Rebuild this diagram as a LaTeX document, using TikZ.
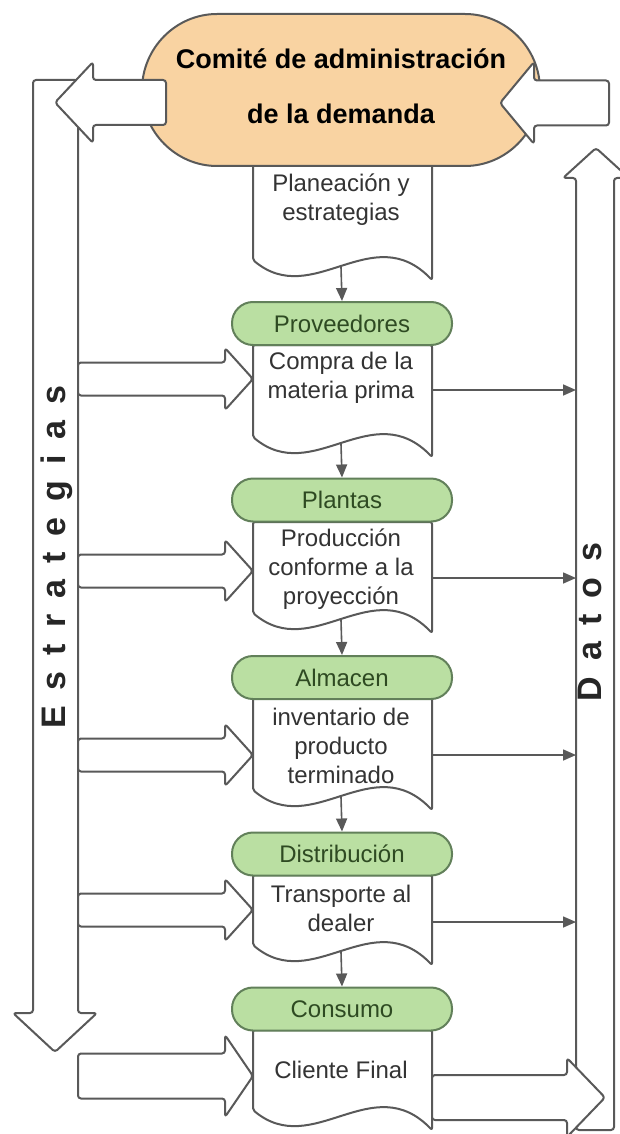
\documentclass[tikz,border=0pt]{standalone}
\usepackage{fontspec}
\setmainfont{Liberation Sans}
\usetikzlibrary{arrows.meta}
\definecolor{lc}{HTML}{595959}
\definecolor{tc}{HTML}{333333}
\definecolor{vc}{HTML}{262626}
\definecolor{orfill}{HTML}{F9D3A2}
\definecolor{grfill}{HTML}{BADFA2}
\definecolor{grline}{HTML}{62805A}
\definecolor{grtext}{HTML}{2E4A22}
\newcommand\docshape[2]{%
  \draw[docline] (253,#1) -- (253,#2-20) .. controls (312.7,#2+30) and (372.3,#2-62) .. (432,#2) -- (432,#1) -- cycle;}
\newcommand\blockarrow[6]{%
  \draw[blk] (#1,#4-#5) -- (#2,#4-#5) -- (#2,#4-#6) -- (#3,#4) -- (#2,#4+#6) -- (#2,#4+#5) -- (#1,#4+#5) -- cycle;}
\newcommand\ls{\kern16pt}
\begin{document}
\begin{tikzpicture}[x=1pt,y=-1pt,
  blk/.style={draw=lc,line width=2pt,fill=white,rounded corners=3pt,line join=round},
  docline/.style={draw=lc,line width=2pt,fill=white,rounded corners=2pt,line join=round},
  dtext/.style={text=tc,align=center,font=\fontsize{24}{29}\selectfont,inner sep=0pt},
  gov/.style={draw=grline,line width=2pt,fill=grfill,rounded corners=21pt,minimum width=220pt,minimum height=43pt,text=grtext,font=\fontsize{24}{29}\selectfont,inner sep=0pt},
  conn/.style={draw=lc,line width=1.6pt,-{Triangle[length=13pt,width=11pt]}},
  vtext/.style={text=vc,font=\bfseries\fontsize{34}{40}\selectfont,rotate=90,inner sep=0pt},
]
\useasboundingbox (0,0) rectangle (620,1134);
\clip (0,0) rectangle (620,1134);
\fill[white] (0,0) rectangle (620,1134);

% left vertical down arrow (Estrategias)
\draw[blk] (33,80) -- (78,80) -- (78,1013) -- (97,1013) -- (55,1052) -- (13,1013) -- (33,1013) -- cycle;
% right vertical up arrow (Datos)
\draw[blk] (576,1130) -- (576,178) -- (563,178) -- (596,148) -- (629,178) -- (614,178) -- (614,1130) -- cycle;

% documents
\docshape{150}{280}
\docshape{345}{457}
\docshape{522}{633}
\docshape{698}{810}
\docshape{875}{965}
\docshape{1030}{1130}

% top oval
\draw[draw=lc,line width=2pt,fill=orfill] (217,14) -- (465,14)
  .. controls (506,14) and (540,48) .. (540,90)
  .. controls (540,132) and (506,166) .. (465,166) -- (217,166)
  .. controls (176,166) and (142,132) .. (142,90)
  .. controls (142,48) and (176,14) .. (217,14) -- cycle;

% top block arrows
\blockarrow{166}{93}{55}{102.5}{22.5}{40.5}
\blockarrow{609}{534}{500}{103}{22.5}{41}

% left block arrows into documents
\blockarrow{78}{225}{253}{379}{16.5}{31}
\blockarrow{78}{225}{253}{571}{16.5}{31}
\blockarrow{78}{225}{253}{755}{16.5}{31}
\blockarrow{78}{225}{253}{910}{16.5}{31}
\blockarrow{78}{225}{253}{1076}{22.5}{41}
% bottom right block arrow
\blockarrow{432}{567}{605}{1097.5}{22.5}{39.5}

% title
\node[font=\bfseries\fontsize{27}{55}\selectfont,align=center,text=black,inner sep=0pt] (title) at (341,86) {Comité de administración\\de la demanda};

% green ovals
\node[gov] (o1) at (342,323.5) {Proveedores};
\node[gov] (o2) at (342,500) {Plantas};
\node[gov] (o3) at (342,677.5) {Almacen};
\node[gov] (o4) at (342,854) {Distribución};
\node[gov] (o5) at (342,1009) {Consumo};

% document texts
\node[dtext] (t1) at (341,200) {Planeación y\\estrategias};
\node[dtext] (t2) at (341,377.5) {Compra de la\\materia prima};
\node[dtext] (t3) at (341,569) {Producción\\conforme a la\\proyección};
\node[dtext] (t4) at (341,746) {inventario de\\producto\\terminado};
\node[dtext] (t5) at (341,908) {Transporte al\\dealer};
\node[dtext] (t6) at (341,1070) {Cliente Final};

% down connectors
\coordinate (b1) at (341,267);
\coordinate (b2) at (341,444);
\coordinate (b3) at (341,620);
\coordinate (b4) at (341,797);
\coordinate (b5) at (341,952);
\draw[conn] (b1) -- (o1.north);
\draw[conn] (b2) -- (o2.north);
\draw[conn] (b3) -- (o3.north);
\draw[conn] (b4) -- (o4.north);
\draw[conn] (b5) -- (o5.north);

% right thin connectors
\foreach \i/\yy in {1/390,2/578,3/755,4/922}{
  \coordinate (rs\i) at (432,\yy);
  \coordinate (re\i) at (576,\yy);
  \draw[conn] (rs\i) -- (re\i);
}

% vertical labels
\node[vtext] (est) at (57,557) {E\ls s\ls t\ls r\ls a\ls t\ls e\ls g\ls i\ls a\ls s};
\node[vtext] (dat) at (590,622) {D\ls a\ls t\ls o\ls s};
\end{tikzpicture}
\end{document}
